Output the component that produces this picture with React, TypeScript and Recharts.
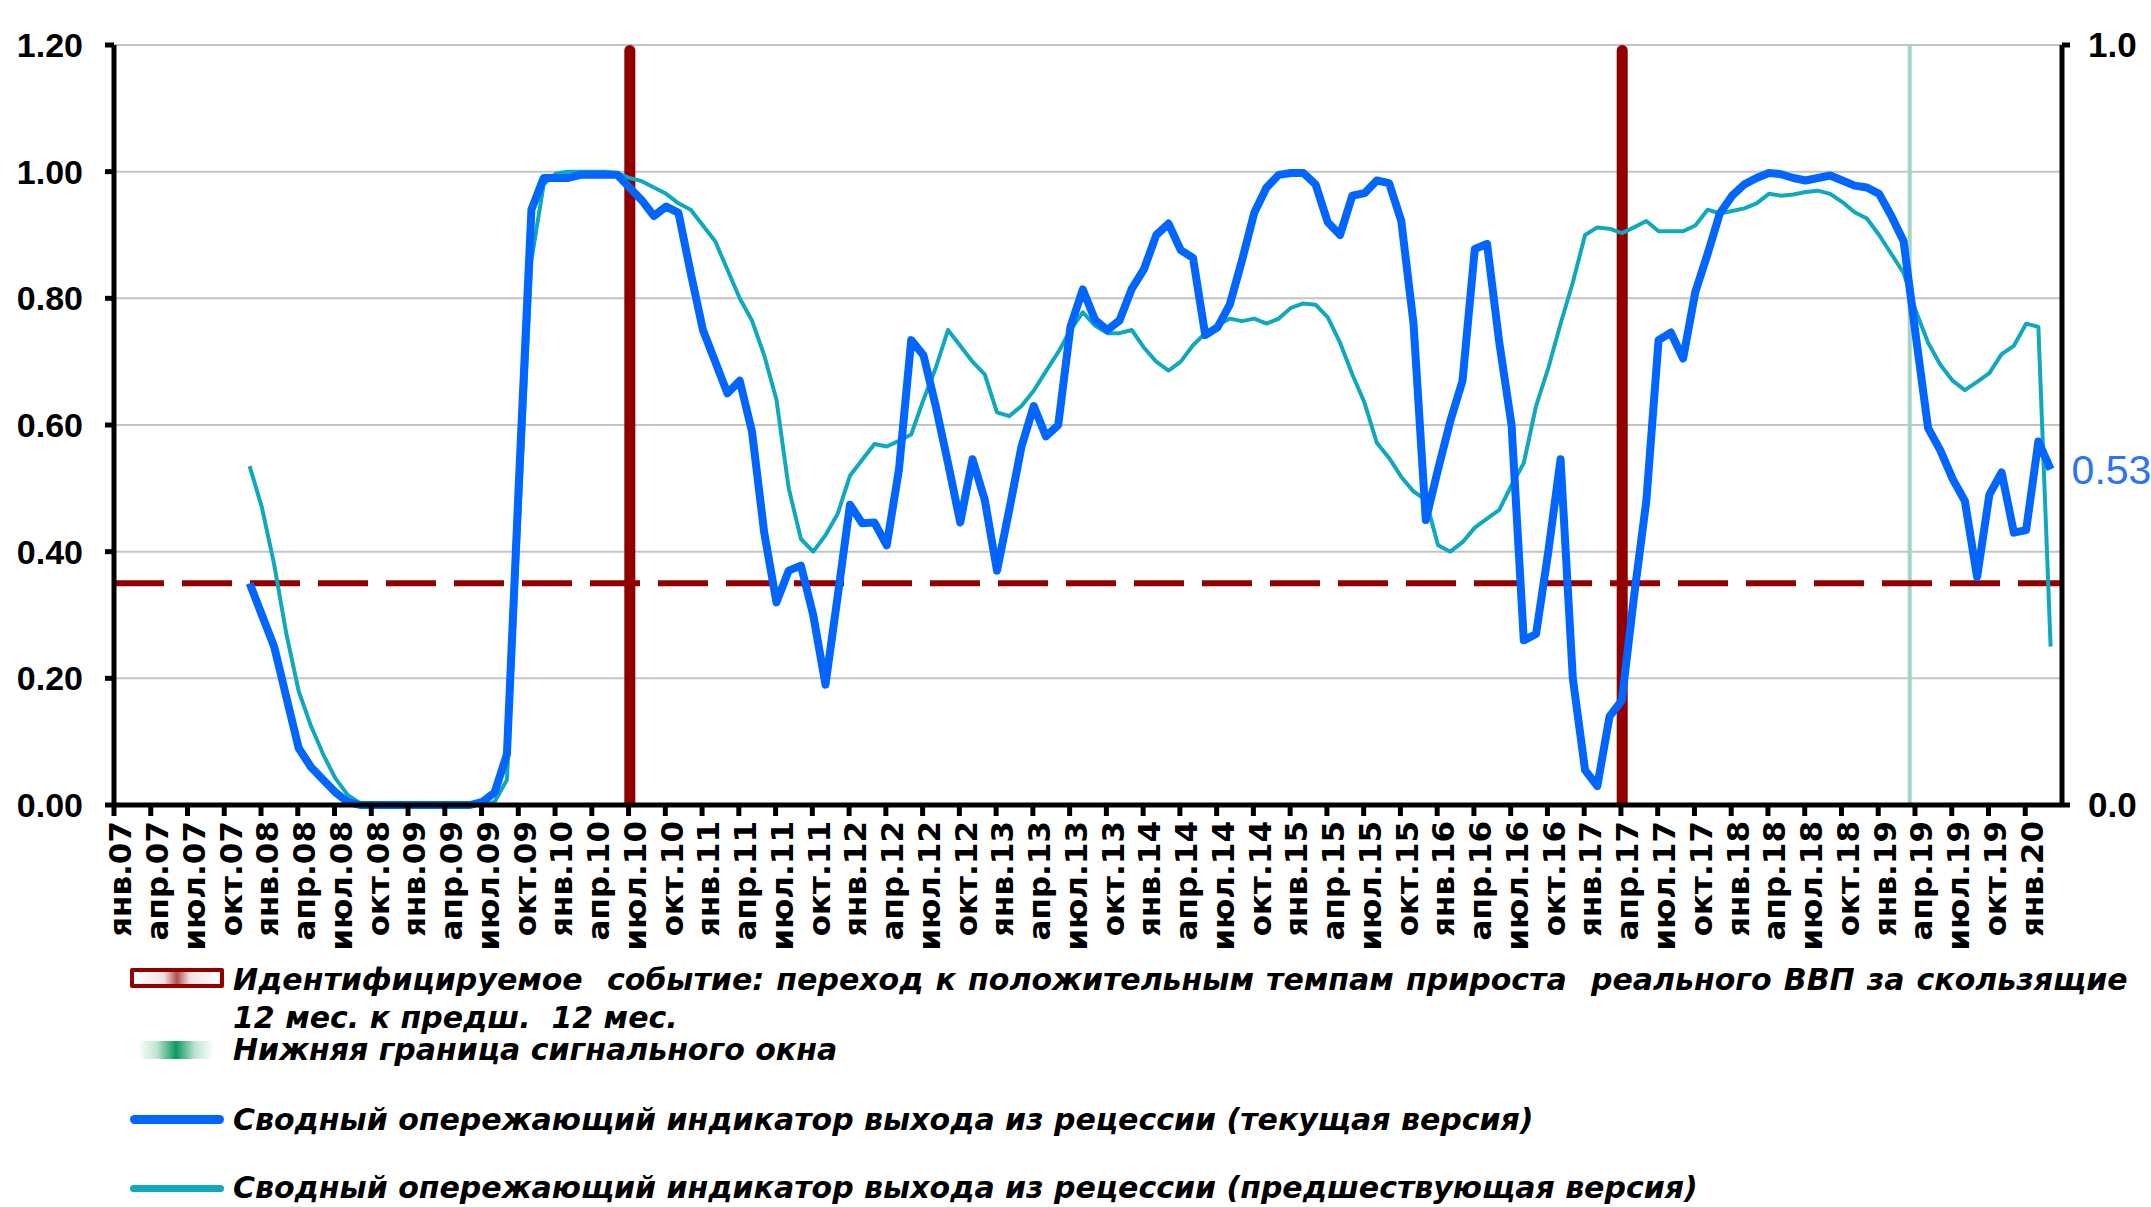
import React from 'react';
import {
  ComposedChart,
  Line,
  Bar,
  XAxis,
  YAxis,
  CartesianGrid,
  ReferenceLine,
  LabelList,
} from 'recharts';

// ---------- DATA ----------
const monthNames = ['янв', 'фев', 'мар', 'апр', 'май', 'июн', 'июл', 'авг', 'сен', 'окт', 'ноя', 'дек'];
const yearSuffixes = ['07', '08', '09', '10', '11', '12', '13', '14', '15', '16', '17', '18', '19', '20'];
const categoryCount = 159; // янв.07 … мар.20
const categories: string[] = yearSuffixes
  .flatMap((y) => monthNames.map((m) => `${m}.${y}`))
  .slice(0, categoryCount);

// Сводный опережающий индикатор (текущая версия)
const currentVersion: (number | null)[] = [
  null, null, null, null, null, null, null, null, null, null,
  0.35, 0.30, 0.25, 0.17, 0.09, 0.06, 0.04, 0.02, 0.005, 0,
  0, 0, 0, 0, 0, 0, 0, 0, 0, 0.005,
  0.02, 0.08, 0.52, 0.94, 0.99, 0.99, 0.99, 0.995, 0.995, 0.995,
  0.995, 0.975, 0.955, 0.93, 0.945, 0.935, 0.84, 0.75, 0.70, 0.65,
  0.67, 0.59, 0.43, 0.32, 0.37, 0.378, 0.30, 0.19, 0.33, 0.474,
  0.445, 0.446, 0.41, 0.53, 0.734, 0.71, 0.63, 0.54, 0.446, 0.546,
  0.482, 0.37, 0.466, 0.566, 0.63, 0.582, 0.60, 0.755, 0.814, 0.766,
  0.75, 0.765, 0.815, 0.846, 0.90, 0.918, 0.876, 0.864, 0.742, 0.754,
  0.79, 0.86, 0.935, 0.975, 0.995, 0.998, 0.998, 0.98, 0.92, 0.90,
  0.962, 0.966, 0.986, 0.982, 0.922, 0.76, 0.45, 0.53, 0.606, 0.67,
  0.878, 0.886, 0.73, 0.60, 0.26, 0.27, 0.40, 0.546, 0.20, 0.055,
  0.03, 0.14, 0.165, 0.33, 0.48, 0.734, 0.746, 0.705, 0.81, 0.87,
  0.934, 0.962, 0.98, 0.99, 0.998, 0.996, 0.99, 0.986, 0.99, 0.994,
  0.986, 0.978, 0.975, 0.965, 0.93, 0.89, 0.74, 0.595, 0.56, 0.515,
  0.48, 0.36, 0.49, 0.525, 0.43, 0.434, 0.574, 0.53, null,
];

// Сводный опережающий индикатор (предшествующая версия)
const previousVersion: (number | null)[] = [
  null, null, null, null, null, null, null, null, null, null,
  0.535, 0.47, 0.38, 0.27, 0.18, 0.125, 0.08, 0.042, 0.016, 0.003,
  0, 0, 0, 0, 0, 0, 0, 0, 0, 0,
  0.005, 0.04, 0.45, 0.86, 0.98, 0.997, 1.0, 1.0, 1.0, 1.0,
  0.998, 0.99, 0.985, 0.975, 0.965, 0.95, 0.94, 0.915, 0.89, 0.845,
  0.80, 0.765, 0.71, 0.64, 0.50, 0.42, 0.40, 0.426, 0.46, 0.52,
  0.545, 0.57, 0.566, 0.575, 0.585, 0.64, 0.69, 0.75, 0.725, 0.70,
  0.68, 0.62, 0.614, 0.63, 0.654, 0.685, 0.715, 0.75, 0.778, 0.757,
  0.745, 0.745, 0.75, 0.722, 0.70, 0.686, 0.70, 0.726, 0.745, 0.758,
  0.768, 0.764, 0.768, 0.76, 0.768, 0.785, 0.792, 0.79, 0.77, 0.73,
  0.68, 0.635, 0.572, 0.548, 0.518, 0.495, 0.482, 0.41, 0.40, 0.415,
  0.438, 0.452, 0.466, 0.505, 0.54, 0.63, 0.69, 0.76, 0.825, 0.90,
  0.912, 0.91, 0.903, 0.912, 0.922, 0.906, 0.906, 0.906, 0.915, 0.94,
  0.934, 0.938, 0.942, 0.95, 0.965, 0.962, 0.964, 0.968, 0.97, 0.965,
  0.952, 0.936, 0.926, 0.90, 0.87, 0.84, 0.78, 0.73, 0.695, 0.67,
  0.655, 0.668, 0.682, 0.712, 0.725, 0.76, 0.755, 0.25, null,
];

// Идентифицируемое событие (secondary axis, 0..1)
const eventMonths = ['июн.10', 'мар.17'];
const eventValue = 1;
// Нижняя граница сигнального окна
const signalWindowMonths = ['мар.19'];
// Порог
const threshold = 0.35;

const leftTicks = [0, 0.2, 0.4, 0.6, 0.8, 1.0, 1.2];
const rightTicks = [0, 1];

const legendLabels = [
  'Идентифицируемое  событие: переход к положительным темпам прироста  реального ВВП за скользящие',
  '12 мес. к предш.  12 мес.',
  'Нижняя граница сигнального окна',
  'Сводный опережающий индикатор выхода из рецессии (текущая версия)',
  'Сводный опережающий индикатор выхода из рецессии (предшествующая версия)',
];

const data = categories.map((cat, i) => ({
  cat,
  current: currentVersion[i],
  previous: previousVersion[i],
  event: eventMonths.includes(cat) ? eventValue : null,
}));

const lastCurrentIndex = currentVersion.reduce<number>((acc, v, i) => (v !== null ? i : acc), -1);

// ---------- STYLE ----------
const W = 2151;
const H = 1207;
const PLOT_LEFT = 114;
const PLOT_RIGHT = 2062;
const BAND = (PLOT_RIGHT - PLOT_LEFT) / categoryCount;
const SHIFT = 7; // series sit slightly right of their category labels, as in the source

const BLUE = '#0066FF';
const TEAL = '#10A8BE';
const DARK_RED = '#900000';
const PALE_GREEN = '#A3D6C0';
const GRID = '#C4C4C4';

const TICK_FONT = "'DejaVu Sans', 'Liberation Sans', Arial, sans-serif";
const NARROW_FONT = "'Liberation Sans Narrow', 'Arial Narrow', 'Liberation Sans', Arial, sans-serif";
const LEGEND_FONT = "'DejaVu Sans', 'Liberation Sans', Arial, sans-serif";

const XTick = (props: any) => {
  const { x, y, payload } = props;
  const lx = x - SHIFT;
  const bx = lx - BAND / 2;
  return (
    <g>
      <line x1={bx} x2={bx} y1={y - 16} y2={y - 5} stroke="#000" strokeWidth={5} />
      <text
        transform={`translate(${lx},${y}) rotate(-90)`}
        textAnchor="end"
        dy="0.36em"
        fill="#000"
        fontSize={31}
        fontWeight="bold"
        fontFamily={TICK_FONT}
      >
        {payload.value}
      </text>
    </g>
  );
};

const LastValueLabel = (props: any) => {
  const { x, y, value, index } = props;
  if (index !== lastCurrentIndex || value == null) return null;
  return (
    <text
      x={x + 21}
      y={y}
      dy="0.36em"
      fill="#2B72FF"
      fontSize={41}
      fontFamily="'Liberation Sans', Arial, sans-serif"
    >
      {Number(value).toFixed(2)}
    </text>
  );
};

const legendText: React.CSSProperties = {
  position: 'absolute',
  left: 233,
  fontFamily: LEGEND_FONT,
  fontStyle: 'italic',
  fontWeight: 'bold',
  fontSize: 30,
  lineHeight: '38px',
  color: '#000',
  whiteSpace: 'pre',
};

export default function App() {
  return (
    <div style={{ position: 'relative', width: W, height: H, background: '#fff', overflow: 'hidden' }}>
      <style>{`body{margin:0;background:#fff;}`}</style>
      <ComposedChart
        width={W}
        height={960}
        data={data}
        margin={{ top: 45, right: 0, bottom: 0, left: 0 }}
      >
        <CartesianGrid yAxisId="left" vertical={false} stroke={GRID} strokeWidth={2} />
        <XAxis
          dataKey="cat"
          interval={2}
          height={155}
          tickSize={10}
          tickMargin={6}
          tickLine={false}
          padding={{ left: SHIFT, right: -SHIFT }}
          axisLine={{ stroke: '#000', strokeWidth: 5 }}
          tick={<XTick />}
        />
        <YAxis
          yAxisId="left"
          orientation="left"
          width={PLOT_LEFT}
          domain={[0, 1.2]}
          ticks={leftTicks}
          interval={0}
          tickFormatter={(v: number) => v.toFixed(2)}
          axisLine={{ stroke: '#000', strokeWidth: 5 }}
          tickLine={{ stroke: '#000', strokeWidth: 5 }}
          tickSize={9}
          tickMargin={22}
          tick={{ fill: '#000', fontSize: 34, fontWeight: 'bold', fontFamily: NARROW_FONT }}
        />
        <YAxis
          yAxisId="right"
          orientation="right"
          width={W - PLOT_RIGHT}
          domain={[0, 1]}
          ticks={rightTicks}
          interval={0}
          tickFormatter={(v: number) => v.toFixed(1)}
          axisLine={{ stroke: '#000', strokeWidth: 5 }}
          tickLine={{ stroke: '#000', strokeWidth: 5 }}
          tickSize={8}
          tickMargin={18}
          tick={{ fill: '#000', fontSize: 35, fontWeight: 'bold', fontFamily: NARROW_FONT }}
        />
        {signalWindowMonths.map((m) => (
          <ReferenceLine key={m} yAxisId="left" x={m} position="start" stroke={PALE_GREEN} strokeWidth={4} />
        ))}
        <ReferenceLine
          yAxisId="left"
          y={threshold}
          stroke={DARK_RED}
          strokeWidth={6}
          strokeDasharray="50 18"
        />
        <Line
          yAxisId="left"
          type="linear"
          dataKey="previous"
          stroke={TEAL}
          strokeWidth={4}
          dot={false}
          activeDot={false}
          connectNulls={false}
          isAnimationActive={false}
          strokeLinejoin="round"
        />
        <Line
          yAxisId="left"
          type="linear"
          dataKey="current"
          stroke={BLUE}
          strokeWidth={8}
          dot={false}
          activeDot={false}
          connectNulls={false}
          isAnimationActive={false}
          strokeLinejoin="round"
        >
          <LabelList dataKey="current" content={<LastValueLabel />} />
        </Line>
        <Bar
          yAxisId="right"
          dataKey="event"
          fill={DARK_RED}
          barSize={14}
          radius={[7, 7, 0, 0]}
          isAnimationActive={false}
        />
      </ComposedChart>

      {/* Legend */}
      <div
        style={{
          position: 'absolute',
          left: 130,
          top: 968,
          width: 86,
          height: 12,
          border: `4px solid ${DARK_RED}`,
          borderRadius: 2,
          background: 'linear-gradient(90deg, #ffffff 0%, #f3e2e2 35%, #b05050 50%, #f3e2e2 65%, #ffffff 100%)',
        }}
      />
      <div style={{ ...legendText, top: 961, wordSpacing: '1.7px' }}>{legendLabels[0]}</div>
      <div style={{ ...legendText, top: 999 }}>{legendLabels[1]}</div>

      <div
        style={{
          position: 'absolute',
          left: 138,
          top: 1041,
          width: 76,
          height: 18,
          background: 'linear-gradient(90deg, rgba(255,255,255,0) 0%, #bfe3d2 25%, #0a9a5c 50%, #bfe3d2 75%, rgba(255,255,255,0) 100%)',
        }}
      />
      <div style={{ ...legendText, top: 1031 }}>{legendLabels[2]}</div>

      <div
        style={{ position: 'absolute', left: 130, top: 1115, width: 94, height: 9, borderRadius: 5, background: BLUE }}
      />
      <div style={{ ...legendText, top: 1101 }}>{legendLabels[3]}</div>

      <div
        style={{ position: 'absolute', left: 130, top: 1185, width: 94, height: 7, borderRadius: 4, background: TEAL }}
      />
      <div style={{ ...legendText, top: 1169 }}>{legendLabels[4]}</div>
    </div>
  );
}
